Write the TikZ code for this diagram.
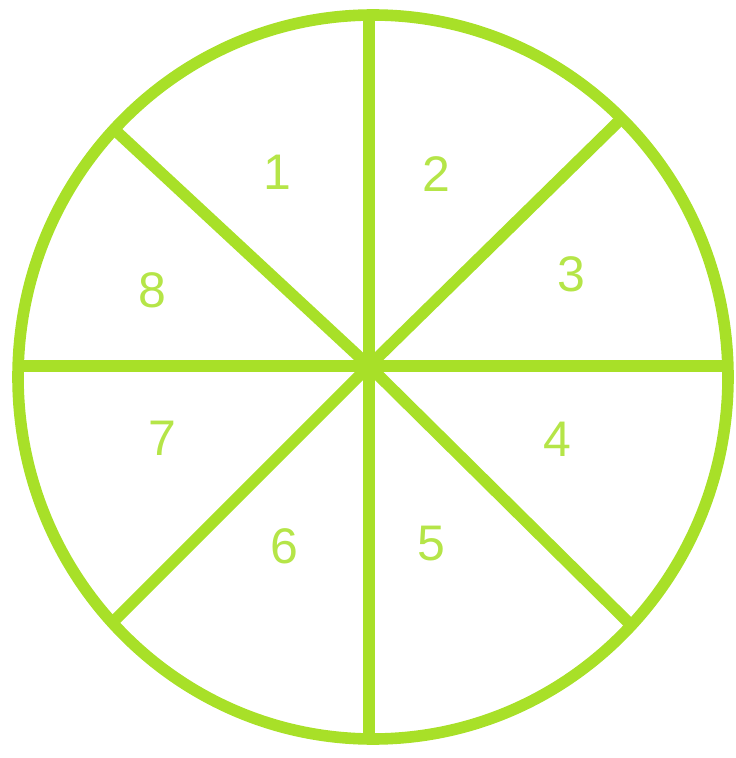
\documentclass[tikz,border=0pt]{standalone}
\usepackage{fontspec}
\setmainfont{Liberation Sans}
\usepackage{tikz}
\usetikzlibrary{positioning}
\usepackage{xcolor}
\definecolor{limeline}{RGB}{168,224,40}

\begin{document}
\begin{tikzpicture}[x=0.5pt,y=-0.5pt,spoke/.style={draw=limeline,line width=5.8pt},num/.style={text=limeline!85,inner sep=0pt,font=\fontsize{25}{30}\selectfont}]
\useasboundingbox (0,0) rectangle (735,758);
\coordinate (O) at (369,366);
\coordinate (T) at (369,14);
\coordinate (B) at (369,740);
\coordinate (L) at (19,366);
\coordinate (R) at (728,366);
\coordinate (NW) at (117,132);
\coordinate (NE) at (620,120);
\coordinate (SW) at (113,622);
\coordinate (SE) at (633,627);
\draw[spoke] (373,377) ellipse [x radius=355,y radius=362];
\draw[spoke] (T) -- (O) -- (B);
\draw[spoke] (L) -- (O) -- (R);
\draw[spoke] (NW) -- (O) -- (SE);
\draw[spoke] (NE) -- (O) -- (SW);
\node[num] (s1) at (277,172) {1};
\node[num] (s2) at (436,174) {2};
\node[num] (s3) at (571,274) {3};
\node[num] (s4) at (557,439) {4};
\node[num] (s5) at (431,544) {5};
\node[num] (s6) at (284,546) {6};
\node[num] (s7) at (162,438) {7};
\node[num] (s8) at (152,290) {8};
\end{tikzpicture}
\end{document}
